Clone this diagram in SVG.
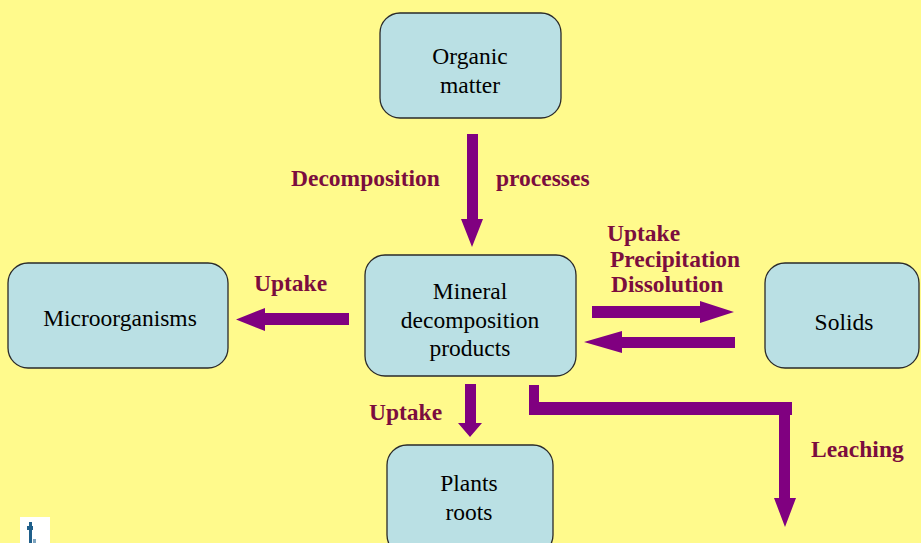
<svg xmlns="http://www.w3.org/2000/svg" width="921" height="543" viewBox="0 0 921 543">
<style>
.box{fill:#BAE0E4;stroke:#2a2a2a;stroke-width:1.3}
.nt{font-family:"Liberation Serif",serif;font-size:23.5px;fill:#000;text-anchor:middle}
.lb{font-family:"Liberation Serif",serif;font-size:23.5px;font-weight:bold;fill:#7B0D3E}
.ar{fill:#800080}
</style>
<rect width="921" height="543" fill="#FFFA8C"/>
<g id="organic"><rect class="box" x="380" y="13" width="181" height="105" rx="20"/><text class="nt" x="470" y="64">Organic</text><text class="nt" x="470" y="93">matter</text></g>
<g id="mineral"><rect class="box" x="365" y="255" width="211" height="121" rx="20"/><text class="nt" x="470" y="299">Mineral</text><text class="nt" x="470" y="328">decomposition</text><text class="nt" x="470" y="356">products</text></g>
<g id="micro"><rect class="box" x="8" y="263" width="220" height="105" rx="20"/><text class="nt" x="120" y="326">Microorganisms</text></g>
<g id="solids"><rect class="box" x="765" y="263" width="154" height="105" rx="20"/><text class="nt" x="844" y="330">Solids</text></g>
<g id="plants"><rect class="box" x="387" y="445" width="166" height="110" rx="20"/><text class="nt" x="469" y="491">Plants</text><text class="nt" x="469" y="520">roots</text></g>
<g id="connectors">
<polygon class="ar" points="467,134 478,134 478,219 483,219 472,247 461,219 467,219"/>
<polygon class="ar" points="349,313 265,313 265,308 236,319.5 265,331 265,325 349,325"/>
<polygon class="ar" points="592,306 700,306 700,301 734,312 700,323 700,318 592,318"/>
<polygon class="ar" points="735,337 622,337 622,331 584,342 622,353 622,348 735,348"/>
<polygon class="ar" points="465,384 476,384 476,423 482,423 470,437 458,423 465,423"/>
<polygon class="ar" points="529,385 539,385 539,402 792,402 792,415 790,415 790,498 796,498 785,527 774,498 779,498 779,415 539,415 529,415"/>
</g>
<g id="labels">
<text class="lb" x="291" y="186">Decomposition</text>
<text class="lb" x="496" y="186">processes</text>
<text class="lb" x="607" y="241">Uptake</text>
<text class="lb" x="610" y="267">Precipitation</text>
<text class="lb" x="611" y="292">Dissolution</text>
<text class="lb" x="254" y="291">Uptake</text>
<text class="lb" x="369" y="420">Uptake</text>
<text class="lb" x="811" y="457">Leaching</text>
</g>
<g id="icon"><rect x="20" y="517" width="30" height="26" fill="#fff"/><rect x="29" y="522" width="3" height="21" fill="#1f5f8a"/><rect x="27" y="526" width="6" height="4" fill="#1f5f8a"/><rect x="33" y="539" width="3" height="4" fill="#7fa5c0"/></g>
</svg>
